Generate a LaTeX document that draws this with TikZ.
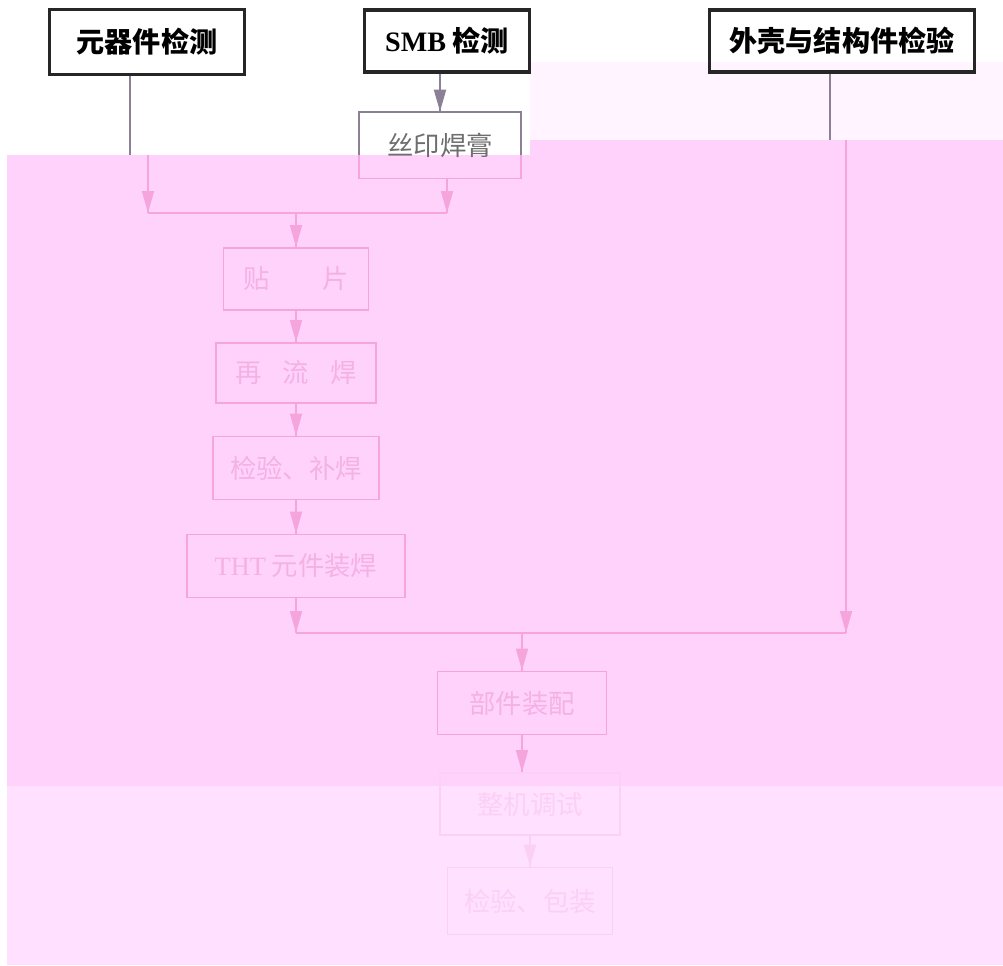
\documentclass[tikz,border=0pt]{standalone}
\usepackage{fontspec}
\setmainfont{Liberation Serif}
\newfontfamily\cjk{Noto Sans CJK SC}
\usetikzlibrary{arrows.meta}
\usetikzlibrary{decorations.markings}
\usetikzlibrary{positioning}
\definecolor{bgpink}{RGB}{255,210,252}
\definecolor{bgpale}{RGB}{255,224,254}
\definecolor{bglight}{RGB}{255,244,255}
\definecolor{lnpink}{RGB}{245,165,220}
\definecolor{txpink}{RGB}{244,178,228}
\definecolor{lnfaint}{RGB}{251,208,246}
\definecolor{lngrey}{RGB}{140,128,150}
\definecolor{txgrey}{RGB}{110,110,110}
\tikzset{->/.style = {decoration={markings,
                                  mark=at position 1 with {\arrow{Triangle[length=4.4mm, width=2.4mm]}}},
                      postaction={decorate}}}
\tikzset{topbox/.style = {draw=black!85, line width=1.8pt, inner sep=0,
                          font=\fontsize{16}{19}\selectfont\bfseries\cjk}}
\tikzset{stepbox/.style = {draw=lnpink, line width=1pt, inner sep=0, text=txpink,
                           font=\fontsize{15}{17}\selectfont\cjk}}
\tikzset{pinkln/.style = {color=lnpink, line width=1pt}}
\tikzset{greyln/.style = {color=lngrey, line width=1.1pt}}
\tikzset{faintln/.style = {color=lnfaint, line width=1pt}}

\begin{document}
\begin{tikzpicture}[x=0.2mm, y=-0.2mm]
      \useasboundingbox (0, 0) rectangle (1003, 965);
      \fill [bglight] (530, 62) rectangle (1003, 140);
      \fill [bgpink] (7, 155) rectangle (530, 786);
      \fill [bgpink] (530, 140) rectangle (1003, 786);
      \fill [bgpale] (7, 786) rectangle (1003, 965);

      \node (comp) at (147, 42) [topbox, minimum width=39mm, minimum height=13mm] {元器件检测};
      \node (smb) at (447, 41) [topbox, minimum width=33mm, minimum height=12.4mm] {{\rmfamily SMB} 检测};
      \node (shell) at (842, 41) [topbox, minimum width=53mm, minimum height=12.4mm] {外壳与结构件检验};

      \node (paste) at (440, 145) [stepbox, draw=none, text=txgrey, minimum width=32mm, minimum height=13mm] {丝印焊膏};
      \node (mount) at (296, 279) [stepbox, minimum width=29mm, minimum height=12.4mm] {贴\hspace{2em}片};
      \node (reflow) at (296, 373) [stepbox, minimum width=32mm, minimum height=12mm] {再\hspace{0.8em}流\hspace{0.8em}焊};
      \node (check) at (296, 468) [stepbox, minimum width=33.2mm, minimum height=12.6mm] {检验、补焊};
      \node (tht) at (296, 566) [stepbox, minimum width=43.6mm, minimum height=12.6mm] {{\rmfamily THT} 元件装焊};
      \node (assy) at (522, 703) [stepbox, minimum width=33.8mm, minimum height=12.6mm] {部件装配};
      \node (tune) at (530, 804) [stepbox, draw=lnfaint, text=lnfaint, minimum width=36mm, minimum height=12.4mm] {整机调试};
      \node (pack) at (530, 901) [stepbox, draw=lnfaint, text=lnfaint, minimum width=33mm, minimum height=13.4mm] {检验、包装};

      \coordinate (cut) at (0, 155);
      \coordinate (c1a) at (130, 155);
      \coordinate (c1b) at (148, 155);
      \coordinate (j1) at (148, 213);
      \coordinate (j2) at (447, 213);
      \coordinate (j3) at (296, 213);
      \coordinate (j4) at (296, 633);
      \coordinate (c2a) at (830, 140);
      \coordinate (c2b) at (846, 140);
      \coordinate (j5) at (846, 633);
      \coordinate (j6) at (522, 633);

      \draw [greyln] (paste.west |- cut) |- (paste.north east) -- (paste.east |- cut);
      \draw [pinkln] (paste.west |- cut) |- (paste.south east) -- (paste.east |- cut);

      \draw [greyln] (comp.south -| c1a) -- (c1a);
      \draw [pinkln, ->] (c1b) -- (j1);
      \draw [greyln, ->] (smb.south -| paste.north) -- (paste.north);
      \draw [pinkln, ->] (paste.south -| j2) -- (j2);
      \draw [pinkln] (j1) -- (j2);
      \draw [pinkln, ->] (j3) -- (mount.north);
      \draw [pinkln, ->] (mount) -- (reflow);
      \draw [pinkln, ->] (reflow) -- (check);
      \draw [pinkln, ->] (check) -- (tht);
      \draw [pinkln, ->] (tht.south) -- (j4);
      \draw [greyln] (shell.south -| c2a) -- (c2a);
      \draw [pinkln, ->] (c2b) -- (j5);
      \draw [pinkln] (j4) -- (j5);
      \draw [pinkln, ->] (j6) -- (assy.north);
      \draw [pinkln, ->] (assy.south) -- (assy.south |- tune.north);
      \draw [faintln, ->] (tune) -- (pack);
    \end{tikzpicture}
\end{document}
